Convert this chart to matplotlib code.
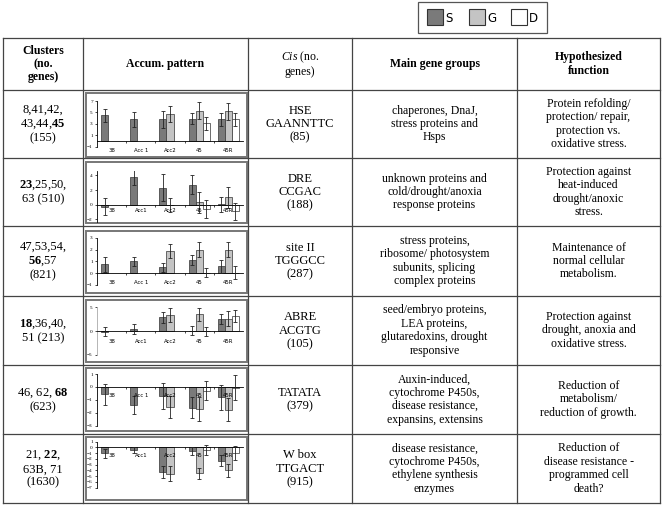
import numpy as np
import matplotlib
matplotlib.use("Agg")
import matplotlib.pyplot as plt
from matplotlib.patches import Rectangle

plt.rcParams['font.family'] = ['Liberation Serif', 'DejaVu Serif']
plt.rcParams['mathtext.fontset'] = 'custom'
plt.rcParams['mathtext.rm'] = 'Liberation Serif'
plt.rcParams['mathtext.it'] = 'Liberation Serif:italic'
plt.rcParams['mathtext.bf'] = 'Liberation Serif:bold'

nan = np.nan

# ---- table text ----
headers = ["Clusters\n(no.\ngenes)", "Accum. pattern", "$\\it{Cis}$ (no.\ngenes)",
           "Main gene groups", "Hypothesized\nfunction"]
clusters = ["8,41,42,\n43,44,$\\bf{45}$\n(155)",
            "$\\bf{23}$,25,50,\n63 (510)",
            "47,53,54,\n$\\bf{56}$,57\n(821)",
            "$\\bf{18}$,36,40,\n51 (213)",
            "46, 62, $\\bf{68}$\n(623)",
            "21, $\\bf{22}$,\n63B, 71\n(1630)"]
cis = ["HSE\nGAANNTTC\n(85)", "DRE\nCCGAC\n(188)", "site II\nTGGGCC\n(287)",
       "ABRE\nACGTG\n(105)", "TATATA\n(379)", "W box\nTTGACT\n(915)"]
gene_groups = ["chaperones, DnaJ,\nstress proteins and\nHsps",
               "unknown proteins and\ncold/drought/anoxia\nresponse proteins",
               "stress proteins,\nribosome/ photosystem\nsubunits, splicing\ncomplex proteins",
               "seed/embryo proteins,\nLEA proteins,\nglutaredoxins, drought\nresponsive",
               "Auxin-induced,\ncytochrome P450s,\ndisease resistance,\nexpansins, extensins",
               "disease resistance,\ncytochrome P450s,\nethylene synthesis\nenzymes"]
functions = ["Protein refolding/\nprotection/ repair,\nprotection vs.\noxidative stress.",
             "Protection against\nheat-induced\ndrought/anoxic\nstress.",
             "Maintenance of\nnormal cellular\nmetabolism.",
             "Protection against\ndrought, anoxia and\noxidative stress.",
             "Reduction of\nmetabolism/\nreduction of growth.",
             "Reduction of\ndisease resistance -\nprogrammed cell\ndeath?"]

# ---- mini chart data (S, G, D means and errors) ----
cat_labels = [["38", "Acc 1", "Acc2", "45", "45R"],
              ["38", "Acc1", "Acc2", "45", "45R"],
              ["38", "Acc 1", "Acc2", "45", "45R"],
              ["38", "Acc1", "Acc2", "45", "45R"],
              ["38", "Acc 1", "Acc2", "45", "45R"],
              ["38", "Acc1", "Acc2", "45", "45R"]]
S_vals = [[4.5, 3.8, 3.8, 3.9, 3.8],
          [-0.25, 3.8, 2.35, 2.7, 0.05],
          [0.75, 1.0, 0.5, 1.1, 0.6],
          [-0.1, 0.55, 2.9, 0.1, 2.65],
          [-0.57, -1.37, -0.67, -1.6, -0.8],
          [-1.0, -0.45, -4.3, -0.6, -2.3]]
S_errs = [[1.15, 1.3, 1.5, 0.95, 1.1],
          [1.2, 1.1, 1.8, 1.3, 1.0],
          [0.65, 0.4, 0.4, 0.4, 0.55],
          [1.0, 1.05, 1.2, 1.0, 1.05],
          [0.82, 0.7, 1.0, 0.8, 0.95],
          [0.75, 0.45, 1.0, 0.65, 1.0]]
G_vals = [[nan, nan, 4.8, 5.3, 5.2],
          [nan, nan, -0.05, 0.35, 1.0],
          [nan, nan, 1.9, 2.0, 2.0],
          [nan, nan, 3.35, 3.5, 2.65],
          [nan, nan, -1.55, -1.7, -1.75],
          [nan, nan, -4.6, -4.5, -4.0]]
G_errs = [[nan, nan, 1.4, 1.5, 1.5],
          [nan, nan, 0.95, 1.45, 1.4],
          [nan, nan, 0.6, 0.6, 0.6],
          [nan, nan, 1.4, 1.3, 1.5],
          [nan, nan, 0.85, 0.95, 0.9],
          [nan, nan, 1.3, 1.0, 1.2]]
D_vals = [[nan, nan, nan, 3.1, 3.8],
          [nan, nan, nan, -0.6, -0.9],
          [nan, nan, nan, 0.05, 0.05],
          [nan, nan, nan, -0.05, 3.15],
          [nan, nan, nan, -0.28, -0.05],
          [nan, nan, nan, -0.4, -0.9]]
D_errs = [[nan, nan, nan, 1.1, 1.1],
          [nan, nan, nan, 1.2, 1.2],
          [nan, nan, nan, 0.4, 0.55],
          [nan, nan, nan, 0.9, 1.3],
          [nan, nan, nan, 0.7, 0.95],
          [nan, nan, nan, 0.9, 1.2]]
y_ticks = [[-1, 1, 3, 5, 7], [-2, 0, 2, 4], [-1, 0, 1, 2, 3],
           [-5, 0, 5], [-3, -2, -1, 0, 1], [-7, -6, -5, -4, -3, -2, -1, 0, 1]]

# layout in pixels
W, H = 662, 505
col_x = [3, 83, 248, 352, 517, 660]
row_y = [38, 90, 158, 226, 296, 365, 434, 503]
# plot areas: (ylim low, ylim high, px of high, px of low)
chart_ylim = [(-1, 7, 101, 146.7), (-2.3, 4.6, 171.1, 221.5), (-1, 3, 237.7, 285),
              (-5, 5, 307.3, 355), (-3, 1, 374, 425.7), (-7, 1, 441.7, 487.7)]
chart_box = [(93, 157), (162, 223), (231, 293), (300, 362), (368, 431), (437, 500)]
label_y = [-1.75, -0.78, -0.82, -2.2, -0.67, -1.33]

S_COL, G_COL, D_COL = '#7a7a7a', '#c4c4c4', '#ffffff'

fig = plt.figure(figsize=(W / 100, H / 100), dpi=100)
ax = fig.add_axes([0, 0, 1, 1])
ax.set_xlim(0, W)
ax.set_ylim(H, 0)
ax.axis('off')

# legend
ax.add_patch(Rectangle((418, 2), 129, 31, fill=False, edgecolor='#555555', lw=0.9))
for x0, col, lab in [(427, S_COL, 'S'), (469, G_COL, 'G'), (511, D_COL, 'D')]:
    ax.add_patch(Rectangle((x0, 9), 16, 16, facecolor=col, edgecolor='#333333', lw=0.8))
    ax.text(x0 + 18, 18, lab, fontsize=8.5, family='DejaVu Sans', va='center', ha='left')

# grid
for y in row_y:
    ax.plot([col_x[0], col_x[-1]], [y, y], color='#444444', lw=0.9)
for x in col_x:
    ax.plot([x, x], [row_y[0], row_y[-1]], color='#444444', lw=0.9)

# header
for i, h in enumerate(headers):
    cx = (col_x[i] + col_x[i + 1]) / 2
    weight = 'normal' if i == 2 else 'bold'
    ax.text(cx, (row_y[0] + row_y[1]) / 2, h, ha='center', va='center',
            fontsize=8.5, fontweight=weight, linespacing=1.15)

# body text
for r in range(6):
    cy = (row_y[r + 1] + row_y[r + 2]) / 2
    for c, txt in [(0, clusters[r]), (2, cis[r]), (3, gene_groups[r]), (4, functions[r])]:
        cx = (col_x[c] + col_x[c + 1]) / 2
        ax.text(cx, cy, txt, ha='center', va='center',
                fontsize=9 if c in (0, 2) else 8.5, linespacing=1.15)

# mini charts
x = np.arange(5)
w = 0.24
for i in range(6):
    b0, b1 = chart_box[i]
    ax.add_patch(Rectangle((86, b0), 161, b1 - b0, fill=False, edgecolor='#777777', lw=1.4))
    lo, hi, ptop, pbot = chart_ylim[i]
    m = fig.add_axes([97 / W, 1 - pbot / H, (243 - 97) / W, (pbot - ptop) / H])
    m.set_facecolor('none')
    for off, vals, errs, col in [(-w, S_vals[i], S_errs[i], S_COL),
                                 (0, G_vals[i], G_errs[i], G_COL),
                                 (w, D_vals[i], D_errs[i], D_COL)]:
        v = np.array(vals)
        e = np.array(errs)
        m.bar(x + off, v, width=w, color=col, edgecolor='#333333', lw=0.5, zorder=2)
        m.errorbar(x + off, v, yerr=e, fmt='none', ecolor='#222222', elinewidth=0.6,
                   capsize=1.6, capthick=0.6, zorder=3)
    m.set_xlim(-0.5, 4.5)
    m.set_ylim(lo, hi)
    m.set_yticks(y_ticks[i])
    m.tick_params(axis='y', labelsize=3.8, length=1.5, width=0.5, pad=1.5)
    m.set_xticks([0.5, 1.5, 2.5, 3.5])
    m.set_xticklabels([])
    m.tick_params(axis='x', length=1.5, width=0.5, direction='out')
    m.spines['bottom'].set_position(('data', 0))
    m.spines['top'].set_visible(False)
    m.spines['right'].set_visible(False)
    for sp in ['left', 'bottom']:
        m.spines[sp].set_linewidth(0.6)
    if i == 3:
        m.spines['left'].set_color('#aaaaaa')
    for k in range(5):
        m.text(x[k], label_y[i], cat_labels[i][k], fontsize=3.9, family='DejaVu Sans',
               ha='center', va='center', clip_on=False, zorder=4)

fig.savefig('out.png', dpi=100, facecolor='white')
